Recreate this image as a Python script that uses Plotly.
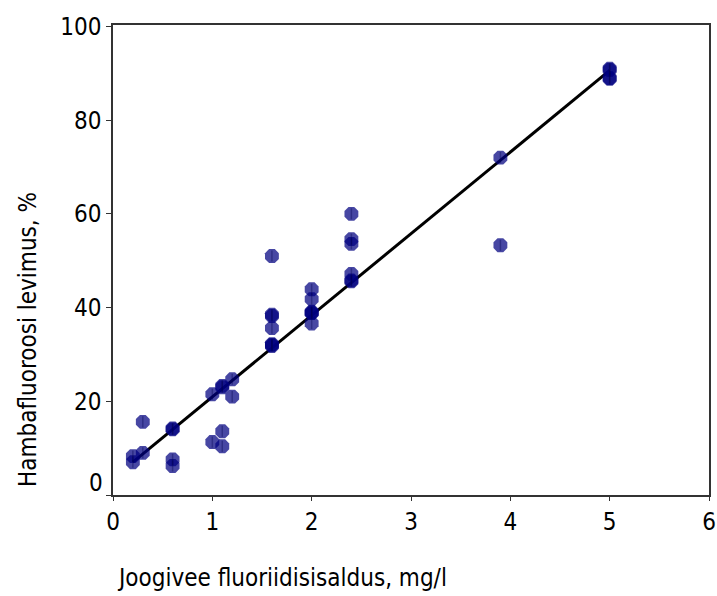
import plotly.graph_objects as go

# Drinking-water fluoride content (mg/l) and dental fluorosis prevalence (%)
fluoride = [0.2, 0.2, 0.3, 0.3, 0.6, 0.6, 0.6, 0.6,
            1.0, 1.0, 1.1, 1.1, 1.1, 1.1, 1.2, 1.2,
            1.6, 1.6, 1.6, 1.6, 1.6, 1.6, 1.6,
            2.0, 2.0, 2.0, 2.0, 2.0, 2.0,
            2.4, 2.4, 2.4, 2.4, 2.4, 2.4,
            3.9, 3.9, 5.0, 5.0, 5.0, 5.0]
prevalence = [8.3, 7.0, 9.0, 15.6, 14.2, 14.0, 7.6, 6.2,
              21.5, 11.3, 23.0, 23.3, 13.6, 10.4, 24.7, 21.0,
              51.0, 38.2, 38.5, 35.6, 32.0, 31.8, 32.2,
              43.9, 41.8, 38.8, 39.1, 36.6, 38.9,
              60.0, 54.6, 53.6, 47.2, 45.6, 45.8,
              72.0, 53.3, 91.0, 90.7, 88.8, 89.0]

# Linear trend line end points
trend_x = [0.2, 5.0]
trend_y = [7.0, 90.6]

x_ticks = [0, 1, 2, 3, 4, 5, 6]
y_ticks = [0, 20, 40, 60, 80, 100]

FONT = "DejaVu Sans Condensed, DejaVu Sans, sans-serif"

fig = go.Figure()
fig.add_trace(go.Scatter(
    x=trend_x, y=trend_y, mode="lines",
    line=dict(color="#000000", width=3), showlegend=False, hoverinfo="skip"))
fig.add_trace(go.Scatter(
    x=fluoride, y=prevalence, mode="markers",
    marker=dict(symbol="octagon", size=15, color="#000080", opacity=0.72,
                line=dict(width=0)),
    showlegend=False))
# thin vertical hatching inside each marker
fig.add_trace(go.Scatter(
    x=fluoride, y=prevalence, mode="markers",
    marker=dict(symbol="line-ns", size=8, opacity=0.35,
                line=dict(width=1.5, color="#000050")),
    showlegend=False, hoverinfo="skip"))

fig.update_layout(
    width=717, height=596,
    margin=dict(l=113, r=8, t=25, b=101, autoexpand=False),
    paper_bgcolor="white", plot_bgcolor="white",
    font=dict(family=FONT, size=24, color="#000000"),
    xaxis=dict(range=[0, 6], tickvals=x_ticks, ticktext=[str(v) for v in x_ticks],
               showgrid=False, zeroline=False, showline=True, linecolor="#333333",
               linewidth=1.5, mirror=True, ticks="outside", ticklen=4,
               tickcolor="#333333", tickfont=dict(size=24), automargin=False),
    yaxis=dict(range=[0, 100.3], tickvals=y_ticks,
               ticktext=["" if v == 0 else str(v) for v in y_ticks],
               showgrid=False, zeroline=False, showline=True, linecolor="#333333",
               linewidth=1.5, mirror=True, ticks="outside", ticklen=5,
               tickcolor="#333333", tickfont=dict(size=24), automargin=False),
    annotations=[
        dict(text="0", x=0, xref="paper", xanchor="right", xshift=-8,
             y=2.6, yref="y", yanchor="middle", showarrow=False,
             font=dict(size=24)),
        dict(text="Joogivee fluoriidisisaldus, mg/l", x=(115 - 113) / 596,
             xref="paper", xanchor="left", y=0, yref="paper", yanchor="middle",
             yshift=-83, showarrow=False, font=dict(size=24)),
        dict(text="Hambafluoroosi levimus, %", textangle=-90,
             x=-(113 - 28) / 596, xref="paper", xanchor="center",
             y=(495 - 340) / 470, yref="paper", yanchor="middle",
             showarrow=False, font=dict(size=24)),
    ],
)

fig.write_html("out.html")
